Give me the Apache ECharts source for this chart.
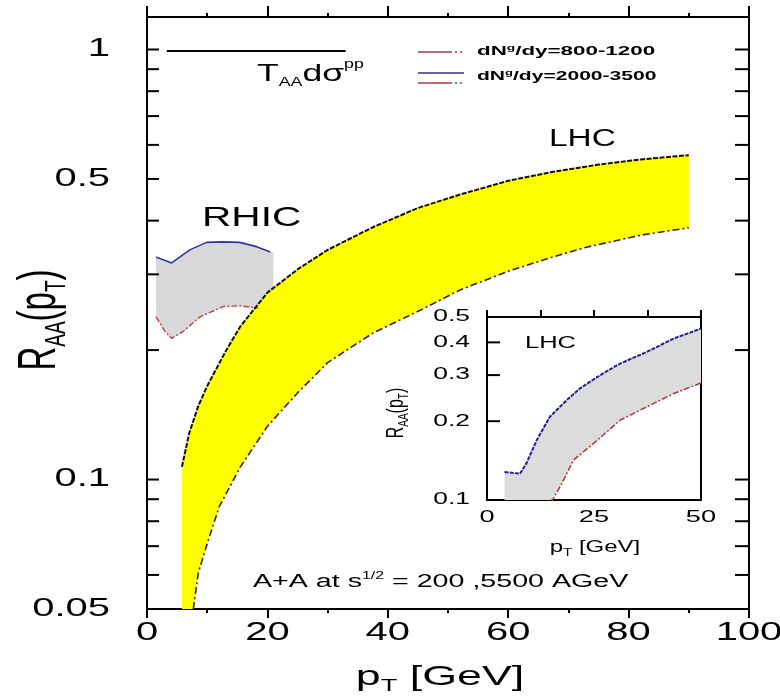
<!DOCTYPE html>
<html><head><meta charset="utf-8">
<script src="https://cdn.jsdelivr.net/npm/echarts@6.0.0/dist/echarts.min.js"></script>
<style>html,body{margin:0;padding:0;background:#fff}#c{width:780px;height:697px}</style>
</head><body><div id="c"></div>
<script>
const FONT = '"Liberation Sans", Arial, Helvetica, sans-serif';

// ---- main panel data (pT [GeV], R_AA) ----
const lhcUpperPt = [5.8, 7, 8.5, 10, 13, 15.5, 20, 25, 30, 37.5, 45, 52, 60, 67, 75, 82, 90];
const lhcUpperR  = [0.107, 0.128, 0.148, 0.165, 0.198, 0.227, 0.272, 0.308, 0.342, 0.386, 0.428, 0.46, 0.495, 0.518, 0.54, 0.555, 0.568];
const lhcLowerPt = [7.7, 8.5, 10, 12, 15.5, 20, 25, 30, 37.5, 46, 52, 60, 67, 73, 82, 90];
const lhcLowerR  = [0.05, 0.0605, 0.071, 0.0865, 0.107, 0.133, 0.159, 0.187, 0.219, 0.25, 0.276, 0.305, 0.328, 0.347, 0.37, 0.385];

const rhicUpperPt = [1.5, 4.1, 7.1, 9.9, 12.5, 15.4, 18.2, 20.5];
const rhicUpperR  = [0.329, 0.319, 0.342, 0.356, 0.357, 0.356, 0.348, 0.338];
const rhicLowerPt = [1.5, 3, 4.1, 6, 8.8, 12.7, 15.4, 18.5];
const rhicLowerR  = [0.239, 0.221, 0.213, 0.221, 0.239, 0.2527, 0.2535, 0.2505];
const rhicEdgePt = 21;

const ppRefPt = [3.3, 33];
const ppRefR  = [0.992, 0.992];

// ---- inset data ----
const insetUpperPt = [4.1, 7.7, 9.2, 11.6, 14.7, 18.6, 21.7, 26.4, 31.1, 37.3, 43.6, 50];
const insetUpperR  = [0.128, 0.126, 0.138, 0.169, 0.208, 0.2405, 0.2666, 0.2996, 0.332, 0.3675, 0.4135, 0.4515];
const insetLowerPt = [15, 17.5, 20.2, 24.9, 31.1, 37.3, 43.6, 50];
const insetLowerR  = [0.098, 0.1158, 0.142, 0.1645, 0.2018, 0.2268, 0.255, 0.28];

// ---- axes / ticks ----
const mainYMin = 0.05, mainYMax = 1.19;
const mainYTicks = [0.05, 0.06, 0.07, 0.08, 0.09, 0.1, 0.2, 0.3, 0.4, 0.5, 0.6, 0.7, 0.8, 0.9, 1];
const mainYLabelVals = [0.05, 0.1, 0.5, 1];
const mainYLabels = ['0.05', '0.1', '0.5', '1'];
const mainXLabelVals = [0, 20, 40, 60, 80, 100];
const mainXLabels = ['0', '20', '40', '60', '80', '100'];
const insetYMin = 0.1, insetYMax = 0.5;
const insetYTicks = [0.2, 0.3, 0.4];
const insetYLabelVals = [0.1, 0.2, 0.3, 0.4, 0.5];
const insetYLabels = ['0.1', '0.2', '0.3', '0.4', '0.5'];
const insetXLabelVals = [0, 25, 50];
const insetXLabels = ['0', '25', '50'];

const L = Math.log10;
const pairs = (xs, ys) => xs.map((x, i) => [x, L(ys[i])]);

const lhcUp = pairs(lhcUpperPt, lhcUpperR);
const lhcLo = pairs(lhcLowerPt, lhcLowerR);
const lhcPoly = lhcUp.concat(lhcLo.slice().reverse(), [[lhcUpperPt[0], L(mainYMin)]]);

const rhicUp = pairs(rhicUpperPt, rhicUpperR);
const rhicLo = pairs(rhicLowerPt, rhicLowerR);
const rhicPoly = rhicUp.concat([[rhicEdgePt, rhicUp[rhicUp.length - 1][1]], [rhicEdgePt, rhicLo[rhicLo.length - 1][1]]], rhicLo.slice().reverse());

const inUp = pairs(insetUpperPt, insetUpperR);
const inLo = pairs(insetLowerPt, insetLowerR);
const inPoly = inUp.concat(inLo.slice().reverse().map(p => [p[0], Math.max(p[1], L(insetYMin))]), [[insetUpperPt[0], L(insetYMin)]]);

function band(xi, yi, poly, color, z) {
  return {
    type: 'custom', xAxisIndex: xi, yAxisIndex: yi, z: z, silent: true, clip: true,
    data: [poly[0]],
    renderItem: (params, api) => ({
      type: 'polygon',
      shape: { points: poly.map(p => api.coord(p)) },
      style: { fill: color }
    })
  };
}
function line(xi, yi, data, color, width, type, z) {
  return {
    type: 'line', xAxisIndex: xi, yAxisIndex: yi, data: data, symbol: 'none', silent: true, z: z,
    lineStyle: { color: color, width: width, type: type }, clip: true
  };
}
function yTicks(xi, yi, vals, lenL, lenR) {
  return {
    type: 'custom', xAxisIndex: xi, yAxisIndex: yi, z: 10, silent: true,
    data: vals.map(v => [0, L(v)]),
    renderItem: (params, api) => {
      const p = api.coord([api.value(0), api.value(1)]);
      const cs = params.coordSys;
      const ch = [{ type: 'line', shape: { x1: cs.x, y1: p[1], x2: cs.x + lenL, y2: p[1] }, style: { stroke: '#000', lineWidth: 2 } }];
      if (lenR) ch.push({ type: 'line', shape: { x1: cs.x + cs.width - lenR, y1: p[1], x2: cs.x + cs.width, y2: p[1] }, style: { stroke: '#000', lineWidth: 2 } });
      return { type: 'group', children: ch };
    }
  };
}
function yLabels(xi, yi, vals, texts, dx, size, sx) {
  return {
    type: 'custom', xAxisIndex: xi, yAxisIndex: yi, z: 10, silent: true,
    data: vals.map(v => [0, L(v)]),
    renderItem: (params, api) => {
      const p = api.coord([api.value(0), api.value(1)]);
      return { type: 'text', x: params.coordSys.x - dx, y: p[1], scaleX: sx,
        style: { text: texts[params.dataIndex], fontSize: size, fontFamily: FONT, fill: '#000', align: 'right', verticalAlign: 'middle' } };
    }
  };
}
function xLabels(xi, yi, vals, texts, ymin, dy, size, sx) {
  return {
    type: 'custom', xAxisIndex: xi, yAxisIndex: yi, z: 10, silent: true,
    data: vals.map(v => [v, L(ymin)]),
    renderItem: (params, api) => {
      const p = api.coord([api.value(0), api.value(1)]);
      const cs = params.coordSys;
      return { type: 'text', x: p[0], y: cs.y + cs.height + dy, scaleX: sx,
        style: { text: texts[params.dataIndex], fontSize: size, fontFamily: FONT, fill: '#000', align: 'center', verticalAlign: 'middle' } };
    }
  };
}

const axLine = { show: true, onZero: false, lineStyle: { color: '#000', width: 2 } };
const noSplit = { show: false };

const option = {
  animation: false,
  backgroundColor: '#fff',
  grid: [
    { left: 147, top: 17, width: 602, height: 592, outerBoundsMode: 'none' },
    { left: 487, top: 317, width: 214, height: 183, outerBoundsMode: 'none' }
  ],
  xAxis: [
    { gridIndex: 0, type: 'value', min: 0, max: 100, interval: 20, position: 'bottom', axisLine: axLine, splitLine: noSplit,
      axisTick: { show: true, inside: false, length: 9, lineStyle: { color: '#000', width: 2 } },
      minorTick: { show: true, splitNumber: 2, length: 4, lineStyle: { color: '#000', width: 2 } },
      axisLabel: { show: false } },
    { gridIndex: 0, type: 'value', min: 0, max: 100, interval: 20, position: 'top', axisLine: axLine, splitLine: noSplit,
      axisTick: { show: true, inside: false, length: 11, lineStyle: { color: '#000', width: 2 } },
      minorTick: { show: true, splitNumber: 2, length: 4, lineStyle: { color: '#000', width: 2 } },
      axisLabel: { show: false } },
    { gridIndex: 1, type: 'value', min: 0, max: 50, interval: 12.5, position: 'bottom', axisLine: axLine, splitLine: noSplit,
      axisTick: { show: false }, axisLabel: { show: false } },
    { gridIndex: 1, type: 'value', min: 0, max: 50, interval: 12.5, position: 'top', axisLine: axLine, splitLine: noSplit,
      axisTick: { show: true, inside: false, length: 7, lineStyle: { color: '#000', width: 2 } }, axisLabel: { show: false } }
  ],
  yAxis: [
    { gridIndex: 0, type: 'value', min: L(mainYMin), max: L(mainYMax), position: 'left', axisLine: axLine, axisTick: { show: false }, axisLabel: { show: false }, splitLine: noSplit },
    { gridIndex: 0, type: 'value', min: L(mainYMin), max: L(mainYMax), position: 'right', axisLine: axLine, axisTick: { show: false }, axisLabel: { show: false }, splitLine: noSplit },
    { gridIndex: 1, type: 'value', min: L(insetYMin), max: L(insetYMax), position: 'left', axisLine: axLine, axisTick: { show: false }, axisLabel: { show: false }, splitLine: noSplit },
    { gridIndex: 1, type: 'value', min: L(insetYMin), max: L(insetYMax), position: 'right', axisLine: axLine, axisTick: { show: false }, axisLabel: { show: false }, splitLine: noSplit }
  ],
  series: [
    band(0, 0, rhicPoly, '#d8d8db', 1),
    band(0, 0, lhcPoly, '#ffff00', 2),
    line(0, 0, rhicUp, '#3434a0', 1.6, 'solid', 3),
    line(0, 0, rhicLo, '#cc3c3c', 1.4, [6, 2, 2, 2], 3),
    line(0, 0, lhcUp, '#111111', 2, [5, 1.5], 4),
    line(0, 0, lhcLo, '#4a1818', 1.6, [7, 3, 2, 3], 4),
    line(0, 0, pairs(ppRefPt, ppRefR), '#000000', 2, 'solid', 4),
    band(2, 2, inPoly, '#dcdcdc', 1),
    line(2, 2, inUp, '#222288', 2, [4, 1.2], 3),
    line(2, 2, inLo, '#b83232', 1.5, [6, 2, 2, 2], 3),
    yTicks(0, 0, mainYTicks, 12, 14),
    yLabels(0, 0, mainYLabelVals, mainYLabels, 37, 25, 1.6),
    xLabels(0, 0, mainXLabelVals, mainXLabels, mainYMin, 24, 25, 1.6),
    yTicks(2, 2, insetYTicks, 13, 0),
    yLabels(2, 2, insetYLabelVals, insetYLabels, 17, 16, 1.65),
    xLabels(2, 2, insetXLabelVals, insetXLabels, insetYMin, 17, 17, 1.6)
  ],
  graphic: [
    { type: 'text', x: 440, y: 677, scaleX: 1.6, z: 20,
      style: { text: '{m|p}{s|T}{m| [GeV]}', align: 'center', verticalAlign: 'middle', fill: '#000',
        rich: { m: { fontSize: 28, fontFamily: FONT, lineHeight: 36 }, s: { fontSize: 17, fontFamily: FONT, lineHeight: 17, verticalAlign: 'bottom' } } } },
    { type: 'text', x: 40, y: 320, rotation: Math.PI / 2, scaleY: 1.6, z: 20,
      style: { text: '{m|R}{s|AA}{m|(p}{s|T}{m|)}', align: 'center', verticalAlign: 'middle', fill: '#000',
        rich: { m: { fontSize: 33, fontFamily: FONT, lineHeight: 40 }, s: { fontSize: 19, fontFamily: FONT, lineHeight: 19, verticalAlign: 'bottom' } } } },
    { type: 'text', x: 595, y: 548, scaleX: 1.5, z: 20,
      style: { text: '{m|p}{s|T}{m| [GeV]}', align: 'center', verticalAlign: 'middle', fill: '#000',
        rich: { m: { fontSize: 16, fontFamily: FONT, lineHeight: 20 }, s: { fontSize: 10, fontFamily: FONT, lineHeight: 10, verticalAlign: 'bottom' } } } },
    { type: 'text', x: 396, y: 413, rotation: Math.PI / 2, scaleY: 1.5, z: 20,
      style: { text: '{m|R}{s|AA}{m|(p}{s|T}{m|)}', align: 'center', verticalAlign: 'middle', fill: '#000',
        rich: { m: { fontSize: 16, fontFamily: FONT, lineHeight: 20 }, s: { fontSize: 10, fontFamily: FONT, lineHeight: 10, verticalAlign: 'bottom' } } } },
    { type: 'text', x: 202, y: 218, scaleX: 1.45, z: 20,
      style: { text: 'RHIC', fontSize: 28, fontFamily: FONT, fill: '#000', align: 'left', verticalAlign: 'middle' } },
    { type: 'text', x: 549, y: 140, scaleX: 1.45, z: 20,
      style: { text: 'LHC', fontSize: 23, fontFamily: FONT, fill: '#000', align: 'left', verticalAlign: 'middle' } },
    { type: 'text', x: 525, y: 343, scaleX: 1.5, z: 20,
      style: { text: 'LHC', fontSize: 17, fontFamily: FONT, fill: '#000', align: 'left', verticalAlign: 'middle' } },
    { type: 'text', x: 257, y: 74, scaleX: 1.48, z: 20,
      style: { text: '{m|T}{s|AA}{m|dσ}{p|pp}', align: 'left', verticalAlign: 'middle', fill: '#000',
        rich: { m: { fontSize: 24, fontFamily: FONT, lineHeight: 30 }, s: { fontSize: 12, fontFamily: FONT, lineHeight: 12, verticalAlign: 'bottom' }, p: { fontSize: 12, fontFamily: FONT, lineHeight: 12, verticalAlign: 'top' } } } },
    { type: 'text', x: 253, y: 582, scaleX: 1.59, z: 20,
      style: { text: '{m|A+A at s}{p|1/2}{m| = 200 ,5500 AGeV}', align: 'left', verticalAlign: 'middle', fill: '#000',
        rich: { m: { fontSize: 18, fontFamily: FONT, lineHeight: 22 }, p: { fontSize: 10, fontFamily: FONT, lineHeight: 10, verticalAlign: 'top' } } } },
    // legend
    { type: 'line', z: 20, shape: { x1: 418, y1: 52, x2: 464, y2: 52 }, style: { stroke: '#b03a3a', lineWidth: 1.5, lineDash: [34, 3, 2, 3, 2, 3] } },
    { type: 'line', z: 20, shape: { x1: 418, y1: 73, x2: 464, y2: 73 }, style: { stroke: '#303090', lineWidth: 1.6 } },
    { type: 'line', z: 20, shape: { x1: 418, y1: 83, x2: 464, y2: 83 }, style: { stroke: '#b03a3a', lineWidth: 1.5, lineDash: [34, 3, 2, 3, 2, 3] } },
    { type: 'text', x: 477, y: 51, scaleX: 1.72, z: 20,
      style: { text: '{m|dN}{p|g}{m|/dy=800-1200}', align: 'left', verticalAlign: 'middle', fill: '#000',
        rich: { m: { fontSize: 13, fontWeight: 'bold', fontFamily: FONT, lineHeight: 15 }, p: { fontSize: 8, fontWeight: 'bold', fontFamily: FONT, lineHeight: 8, verticalAlign: 'top' } } } },
    { type: 'text', x: 477, y: 76, scaleX: 1.62, z: 20,
      style: { text: '{m|dN}{p|g}{m|/dy=2000-3500}', align: 'left', verticalAlign: 'middle', fill: '#000',
        rich: { m: { fontSize: 13, fontWeight: 'bold', fontFamily: FONT, lineHeight: 15 }, p: { fontSize: 8, fontWeight: 'bold', fontFamily: FONT, lineHeight: 8, verticalAlign: 'top' } } } }
  ]
};

const chart = echarts.init(document.getElementById('c'), null, { renderer: 'canvas' });
chart.setOption(option);
</script>
</body></html>
